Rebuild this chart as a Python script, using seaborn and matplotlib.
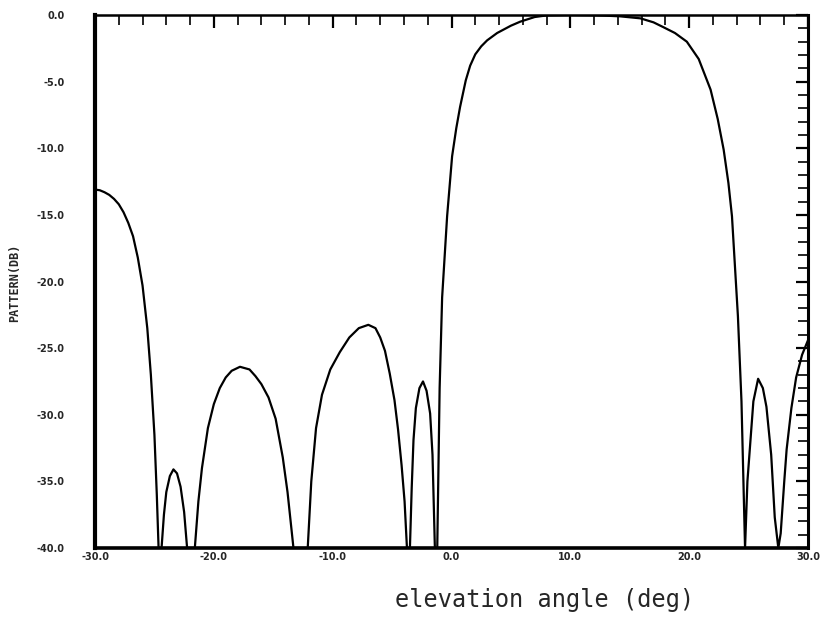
import matplotlib
matplotlib.use("Agg")
import matplotlib.pyplot as plt
import seaborn as sns
import pandas as pd
from matplotlib.ticker import MultipleLocator

# Elevation angle (deg) and pattern (dB)
angle = [
    -30.0, -29.6, -29.2, -28.8, -28.4, -28.0, -27.6, -27.2, -26.8, -26.4,
    -26.0, -25.6, -25.3, -25.0, -24.8, -24.65,
    -24.4, -24.2, -24.0, -23.7, -23.4, -23.1, -22.8, -22.5, -22.25,
    -21.6, -21.3, -21.0, -20.5, -20.0, -19.5, -19.0, -18.5, -17.8, -17.0,
    -16.5, -16.0, -15.4, -14.8, -14.2, -13.8, -13.3,
    -12.1, -11.8, -11.4, -10.9, -10.2, -9.4, -8.6, -7.8, -7.0, -6.4,
    -6.0, -5.6, -5.2, -4.8, -4.5, -4.2, -3.95, -3.75,
    -3.5, -3.35, -3.2, -3.0, -2.7, -2.4, -2.1, -1.8, -1.6, -1.4,
    -1.2, -1.0, -0.79, -0.37, 0.05, 0.4, 0.72, 1.2, 1.57, 2.0, 2.5, 3.0, 3.84,
    5.0, 5.78, 7.0, 8.0, 10.0, 12.0, 13.0, 14.2, 15.9, 17.0, 17.8,
    18.8, 19.8, 20.8, 21.8, 22.4, 22.9, 23.3, 23.6, 24.1, 24.4, 24.7,
    24.9, 25.1, 25.4, 25.8, 26.2, 26.5, 26.9, 27.2, 27.5,
    27.7, 28.0, 28.2, 28.6, 29.0, 29.5, 30.0,
]
pattern_db = [
    -13.1, -13.15, -13.3, -13.5, -13.8, -14.2, -14.8, -15.6, -16.6, -18.2,
    -20.3, -23.5, -27.0, -31.5, -36.0, -40.0,
    -40.0, -37.5, -35.8, -34.6, -34.1, -34.4, -35.4, -37.3, -40.0,
    -40.0, -36.5, -34.0, -31.0, -29.2, -28.0, -27.2, -26.7, -26.4, -26.6,
    -27.1, -27.7, -28.7, -30.3, -33.2, -35.8, -40.0,
    -40.0, -35.0, -31.0, -28.5, -26.6, -25.3, -24.2, -23.5, -23.25, -23.5,
    -24.2, -25.2, -26.9, -28.9, -31.1, -33.8, -36.5, -40.0,
    -40.0, -35.5, -31.9, -29.5, -28.0, -27.5, -28.2, -29.9, -33.0, -40.0,
    -40.0, -28.0, -21.2, -15.1, -10.6, -8.5, -6.9, -4.9, -3.8, -2.95, -2.35, -1.9, -1.35,
    -0.8, -0.5, -0.15, -0.03, 0.0, -0.02, -0.05, -0.1, -0.25, -0.55, -0.9,
    -1.35, -2.0, -3.3, -5.6, -7.8, -10.1, -12.6, -15.1, -22.6, -29.0, -40.0,
    -35.0, -32.6, -29.0, -27.3, -28.0, -29.4, -33.0, -37.7, -40.0,
    -38.9, -35.0, -32.6, -29.5, -27.2, -25.5, -24.4,
]

x_ticks = [-30, -20, -10, 0, 10, 20, 30]
y_ticks = [0, -5, -10, -15, -20, -25, -30, -35, -40]

df = pd.DataFrame({"angle": angle, "pattern": pattern_db})

sns.set_style("white")
fig = plt.figure(figsize=(8.29, 6.39), dpi=100)
ax = fig.add_axes([0.1146, 0.1424, 0.8601, 0.8341])

sns.lineplot(data=df, x="angle", y="pattern", sort=False, estimator=None,
             color="black", linewidth=1.6, ax=ax)
for line in ax.get_lines():
    line.set_solid_joinstyle("round")

ax.set_xlim(-30, 30)
ax.set_ylim(-40, 0)
ax.set_xticks(x_ticks)
ax.set_yticks(y_ticks)
ax.set_xticklabels([f"{v:.1f}" for v in x_ticks], fontsize=7, fontweight="bold")
ax.set_yticklabels([f"{v:.1f}" for v in y_ticks], fontsize=7, fontweight="bold")
ax.xaxis.set_minor_locator(MultipleLocator(2))
ax.yaxis.set_minor_locator(MultipleLocator(1))

ax.tick_params(axis="both", which="both", direction="in", top=True, right=True,
               color="black")
ax.tick_params(axis="both", which="major", length=9, width=1.6)
ax.tick_params(axis="both", which="minor", length=7, width=1.2)
ax.tick_params(axis="y", which="major", pad=22)
ax.tick_params(axis="x", which="major", pad=3)

for side, w in {"left": 3.0, "bottom": 2.6, "top": 1.8, "right": 2.2}.items():
    ax.spines[side].set_visible(True)
    ax.spines[side].set_color("black")
    ax.spines[side].set_linewidth(w)

ax.set_xlabel("")
ax.set_ylabel("")

fig.text(0.018, 0.557, "PATTERN(DB)", rotation=90, ha="center", va="center",
         fontsize=8.5, fontweight="bold", family="DejaVu Sans Mono")
fig.text(0.657, 0.061, "elevation angle (deg)", ha="center", va="center",
         fontsize=17, family="DejaVu Sans Mono")

fig.savefig("out.png", dpi=100)
